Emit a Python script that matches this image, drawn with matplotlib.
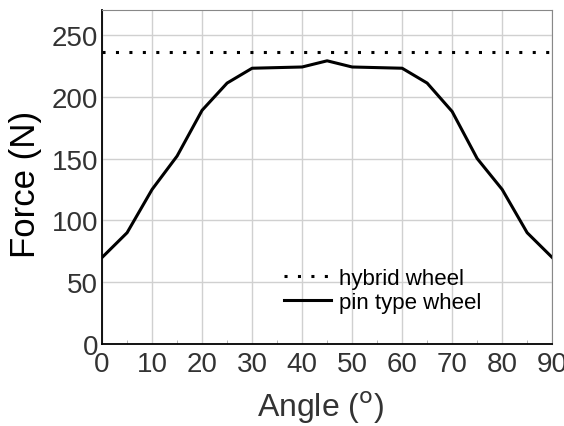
import numpy as np
import matplotlib.pyplot as plt

plt.rcParams['font.family'] = ['Liberation Sans', 'DejaVu Sans']

# data
angle = [0, 5, 10, 15, 20, 25, 30, 35, 40, 45, 50, 55, 60, 65, 70, 75, 80, 85, 90]
pin_force = [70, 90, 125, 152, 189, 211, 223, 223.5, 224, 229, 224, 223.5, 223, 211, 188, 150, 125, 90, 70]
hybrid_force = 236.5

fig = plt.figure(figsize=(5.64, 4.27), dpi=100)
ax = fig.add_axes([0.181, 0.192, 0.798, 0.782])

ax.plot([0, 90], [hybrid_force, hybrid_force], color='black', lw=2.2,
        linestyle=(0, (1, 3.4)), label='hybrid wheel')
ax.plot(angle, pin_force, color='black', lw=2.2, label='pin type wheel')

ax.set_xlim(0, 90)
ax.set_ylim(0, 270)
ax.set_xticks(np.arange(0, 91, 10))
ax.set_xticks(np.arange(5, 90, 10), minor=True)
ax.set_yticks(np.arange(0, 251, 50))
ax.grid(True, color='#d0d0d0', lw=1)
ax.set_axisbelow(True)
ax.tick_params(length=0, labelsize=20, colors='#333333')
ax.tick_params(axis='x', which='minor', length=3, direction='in', color='#aaaaaa')
ax.tick_params(axis='x', pad=5)
ax.tick_params(axis='y', pad=3)

for s in ['top', 'right']:
    ax.spines[s].set_color('#888888')
for s in ['left', 'bottom']:
    ax.spines[s].set_color('black')
    ax.spines[s].set_linewidth(1.3)

ax.set_xlabel('Angle ($^{\\mathrm{o}}$)', fontsize=23, color='#333333')
ax.xaxis.set_label_coords(0.485, -0.135)
ax.set_ylabel('Force (N)', fontsize=25)
ax.yaxis.set_label_coords(-0.133, 0.48)

ax.legend(loc='upper left', bbox_to_anchor=(0.385, 0.254), frameon=False,
          fontsize=16, handlelength=2.1, handletextpad=0.35,
          labelspacing=0.12, borderaxespad=0)

plt.savefig('out.png')
